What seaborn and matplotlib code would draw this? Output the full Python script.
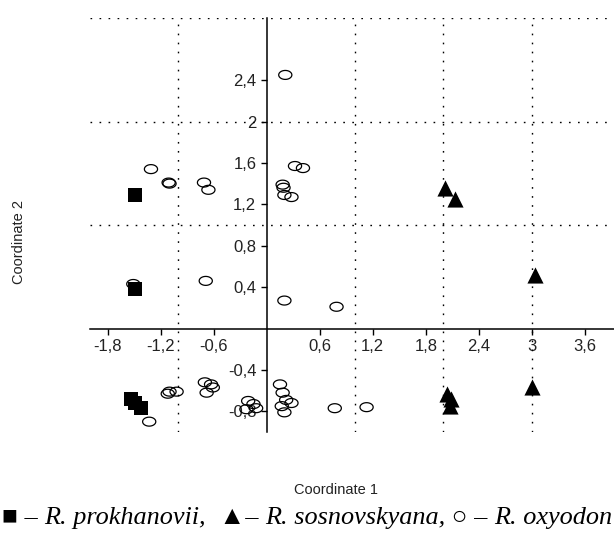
import numpy as np
import pandas as pd
import seaborn as sns
import matplotlib
matplotlib.use("Agg")
import matplotlib.pyplot as plt
from matplotlib.path import Path
from matplotlib.ticker import FixedLocator, FuncFormatter
from matplotlib.offsetbox import TextArea, HPacker, AnchoredOffsetbox

# PCoA scores
prok_x = [-1.49, -1.49, -1.54, -1.49, -1.42]
prok_y = [1.29, 0.38, -0.68, -0.72, -0.77]

sosn_x = [2.02, 2.13, 3.04, 3.00, 2.04, 2.08, 2.07]
sosn_y = [1.36, 1.25, 0.52, -0.57, -0.63, -0.68, -0.75]

oxy_x = [0.21, -1.31, -1.11, -1.10, -0.71, -0.66, 0.32, 0.41, 0.18, 0.19,
         0.20, 0.28, -1.51, -0.69, 0.20, 0.79, -1.10, -1.12, -1.02, -1.33,
         -0.70, -0.63, -0.68, -0.61, -0.21, -0.15, -0.23, -0.12, 0.15, 0.18,
         0.22, 0.28, 0.17, 0.20, 0.77, 1.13]
oxy_y = [2.45, 1.54, 1.41, 1.40, 1.41, 1.34, 1.57, 1.55, 1.39, 1.36,
         1.29, 1.27, 0.43, 0.46, 0.27, 0.21, -0.61, -0.63, -0.61, -0.90,
         -0.52, -0.54, -0.62, -0.57, -0.70, -0.73, -0.78, -0.77, -0.54, -0.62,
         -0.69, -0.72, -0.75, -0.81, -0.77, -0.76]

xticks = [-1.8, -1.2, -0.6, 0.6, 1.2, 1.8, 2.4, 3, 3.6]
yticks = [-0.8, -0.4, 0.4, 0.8, 1.2, 1.6, 2, 2.4]
xgrid = [-1, 1, 2, 3]
ygrid = [1, 2, 3]

df_prok = pd.DataFrame({"x": prok_x, "y": prok_y})
df_sosn = pd.DataFrame({"x": sosn_x, "y": sosn_y})
df_oxy = pd.DataFrame({"x": oxy_x, "y": oxy_y})

sns.set_style("white")
plt.rcParams["font.family"] = ["Liberation Sans", "DejaVu Sans"]

fig = plt.figure(figsize=(6.14, 5.34), dpi=100)
ax = fig.add_axes([90 / 614, 102 / 534, 524 / 614, 414 / 534])

# flat ellipse used for the open markers
t = np.linspace(0, 2 * np.pi, 41)
ellipse = Path(np.column_stack([np.cos(t), 0.68 * np.sin(t)]), closed=True)

sns.scatterplot(data=df_oxy, x="x", y="y", ax=ax, marker=ellipse, s=90,
                facecolor="none", edgecolor="black", linewidth=0.9, zorder=3)
sns.scatterplot(data=df_prok, x="x", y="y", ax=ax, marker="s", s=100,
                color="black", edgecolor="black", linewidth=0, zorder=4)
sns.scatterplot(data=df_sosn, x="x", y="y", ax=ax, marker="^", s=135,
                color="black", edgecolor="black", linewidth=0, zorder=4)

ax.set_xlim(-2, 3.93)
ax.set_ylim(-1, 3)

for side in ["top", "right"]:
    ax.spines[side].set_visible(False)
for side in ["left", "bottom"]:
    ax.spines[side].set_position("zero")
    ax.spines[side].set_color("black")
    ax.spines[side].set_linewidth(1.1)

fmt = FuncFormatter(lambda v, p: ("%g" % v).replace(".", ","))
ax.xaxis.set_major_locator(FixedLocator(xticks))
ax.yaxis.set_major_locator(FixedLocator(yticks))
ax.xaxis.set_major_formatter(fmt)
ax.yaxis.set_major_formatter(fmt)
# dotted grid sits on whole units, even where a labelled tick shares the spot
ax.xaxis.remove_overlapping_locs = False
ax.yaxis.remove_overlapping_locs = False
ax.xaxis.set_minor_locator(FixedLocator(xgrid))
ax.yaxis.set_minor_locator(FixedLocator(ygrid))
ax.tick_params(which="major", direction="out", length=4.5, width=1,
               color="black", labelsize=12, labelcolor="#222222", pad=3,
               bottom=True, left=True)
ax.tick_params(which="minor", length=0)
ax.grid(which="minor", color="black", linestyle=(0, (1.2, 5.3)), linewidth=1.0)
ax.grid(which="major", visible=False)
ax.set_axisbelow(True)

ax.set_xlabel("")
ax.set_ylabel("")
fig.text(336 / 614, 1 - 490 / 534, "Coordinate 1", ha="center", va="center",
         fontsize=10.5, color="#222222")
fig.text(19 / 614, 1 - 242 / 534, "Coordinate 2", ha="center", va="center",
         rotation=90, fontsize=10.5, color="#222222")

# species key under the plot
serif = ["Liberation Serif", "DejaVu Serif"]
up = dict(family=serif, size=18.9, color="black")
it = dict(family=serif, size=18.9, color="black", style="italic")
pieces = [("\u25a0 \u2013 ", up), ("R. prokhanovii,", it), ("  \u25b2\u2013 ", up),
          ("R. sosnovskyana,", it), (" \u25cb \u2013 ", up), ("R. oxyodon", it)]
pack = HPacker(children=[TextArea(s, textprops=p) for s, p in pieces],
               sep=0, pad=0, align="baseline")
key = AnchoredOffsetbox(loc="lower left", child=pack, pad=0, borderpad=0,
                        frameon=False, bbox_to_anchor=(0.003, 0.01),
                        bbox_transform=fig.transFigure)
fig.add_artist(key)

fig.savefig("out.png", dpi=100)
